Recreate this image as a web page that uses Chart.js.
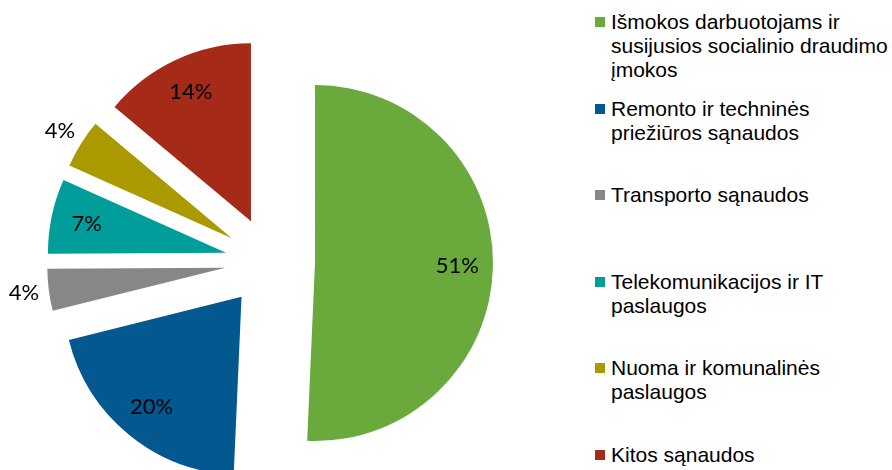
<!DOCTYPE html>
<html>
<head>
<meta charset="utf-8">
<script src="https://cdn.jsdelivr.net/npm/chart.js@4.4.1/dist/chart.umd.min.js"></script>
<style>
    html, body { margin: 0; padding: 0; background: #fff; width: 892px; height: 470px; overflow: hidden; }
    #pieBox { position: absolute; left: 0; top: 0; width: 540px; height: 470px; }
    #legend {
        position: absolute; left: 595px; top: 10px;
        font-family: 'Liberation Sans', Arial, sans-serif;
        font-size: 21px; line-height: 24px; color: #000;
    }
    .item { position: relative; height: 86.6px; padding-left: 16px; white-space: nowrap; }
    .box  { position: absolute; left: 0; top: 7px; width: 10px; height: 10px; }
</style>
</head>
<body>
<div id="pieBox"><canvas id="costChart" width="540" height="470"></canvas></div>
<div id="legend"></div>

<script>
/* ── data ─────────────────────────────────────────────────────────────── */
const CATEGORIES = [
    ['Išmokos darbuotojams ir', 'susijusios socialinio draudimo', 'įmokos'],
    ['Remonto ir techninės', 'priežiūros sąnaudos'],
    ['Transporto sąnaudos'],
    ['Telekomunikacijos ir IT', 'paslaugos'],
    ['Nuoma ir komunalinės', 'paslaugos'],
    ['Kitos sąnaudos'],
];
const SHARES = [50.7, 20.4, 3.8, 6.8, 4.4, 13.9];   // % of total

const COLORS = ['#6aaa3d', '#02588f', '#878787', '#009e9a', '#aa9a00', '#a62a18'];

/* ──────────────────────────────────────────────────────────────────────────
   Exploded arc: Chart.js v4 quarters `offset` and pads the radius of narrow
   slices with it, so redo the push-out here and let the stock arc draw.
   ────────────────────────────────────────────────────────────────────────── */
class ExplodedArc extends Chart.ArcElement {
    static id = 'explodedArc';

    draw(ctx) {
        const opts = this.options;
        const push = opts.offset || 0;
        const mid  = (this.startAngle + this.endAngle) / 2;

        ctx.save();
        ctx.translate(Math.cos(mid) * push, Math.sin(mid) * push);
        this.options = Object.assign({}, opts, { offset: 0 });
        super.draw(ctx);
        this.options = opts;
        ctx.restore();
    }
}

class ExplodedPieController extends Chart.PieController {
    static id = 'explodedPie';
    static defaults = { dataElementType: 'explodedArc' };
}

Chart.register(ExplodedArc, ExplodedPieController);

/** percentage labels: inside for big slices, just outside for small ones */
const sliceLabels = {
    id: 'sliceLabels',
    afterDatasetsDraw(chart) {
        const meta  = chart.getDatasetMeta(0);
        const total = SHARES.reduce((a, b) => a + b, 0);
        const ctx   = chart.ctx;

        ctx.save();
        ctx.font = '22px Lato, "Open Sans", sans-serif';
        ctx.fillStyle = '#000';
        ctx.textAlign = 'center';
        ctx.textBaseline = 'middle';

        meta.data.forEach((arc, i) => {
            const { x, y, startAngle, endAngle, outerRadius } =
                arc.getProps(['x', 'y', 'startAngle', 'endAngle', 'outerRadius'], true);
            const share = SHARES[i] / total;
            const mid   = (startAngle + endAngle) / 2;
            const dist  = arc.options.offset + outerRadius * (share < 0.05 ? 1.14 : 0.8);
            ctx.fillText(Math.round(share * 100) + '%',
                x + Math.cos(mid) * dist, y + Math.sin(mid) * dist);
        });
        ctx.restore();
    },
};

new Chart(document.getElementById('costChart').getContext('2d'), {
    type: 'explodedPie',
    data: {
        labels: CATEGORIES,
        datasets: [{
            data: SHARES,
            backgroundColor: COLORS,
            borderWidth: 0,
            offset: 45,
            hoverOffset: 0,
            clip: false,
        }],
    },
    options: {
        responsive: false,
        animation: false,
        radius: 178,
        layout: { padding: { top: 54 } },
        plugins: {
            legend: { display: false },
            tooltip: { enabled: false },
        },
    },
    plugins: [sliceLabels],
});

/* legend (HTML so the wrapped lines match) */
const legendEl = document.getElementById('legend');
CATEGORIES.forEach((lines, i) => {
    const item = document.createElement('div');
    item.className = 'item';
    const box = document.createElement('span');
    box.className = 'box';
    box.style.background = COLORS[i];
    item.appendChild(box);
    lines.forEach(line => {
        const row = document.createElement('div');
        row.textContent = line;
        item.appendChild(row);
    });
    legendEl.appendChild(item);
});
</script>
</body>
</html>
